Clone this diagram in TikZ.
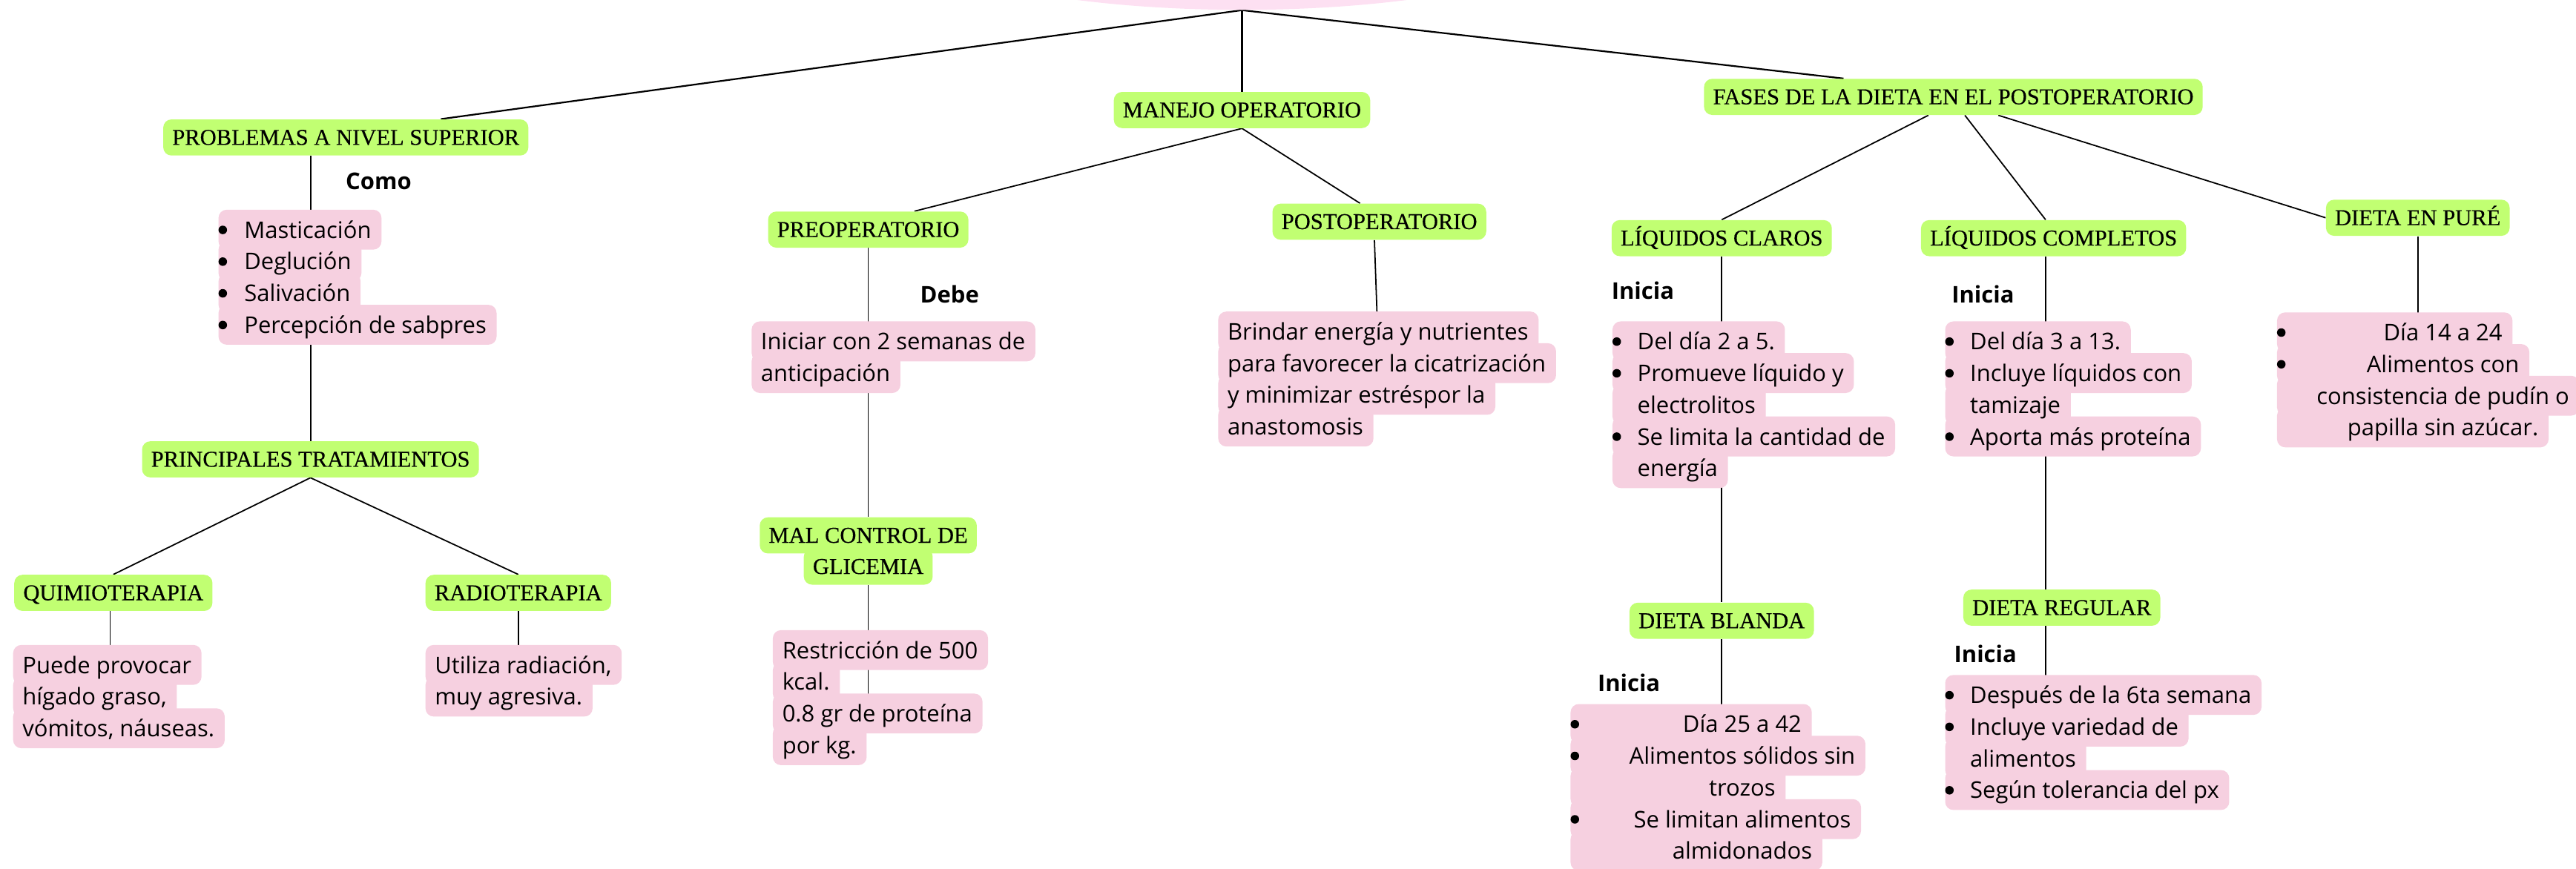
\documentclass[tikz,border=0pt]{standalone}
\usepackage{fontspec}
\setmainfont{Open Sans}
\newfontfamily\titlefont{Liberation Serif}[FakeBold=0.35]
\usetikzlibrary{calc,shapes.geometric}
\definecolor{greenc}{HTML}{C1FF72}
\definecolor{pinkc}{HTML}{F6D0E0}
\definecolor{rootc}{HTML}{FDE0F2}
\pgfdeclarelayer{edges}\pgfdeclarelayer{bgl}\pgfsetlayers{edges,bgl,main}
\newcommand\bodyfont{\fontsize{14}{16}\selectfont}
\tikzset{
 txt/.style={inner sep=0pt,font=\bodyfont},
 ttl/.style={fill=greenc, rounded corners=5pt, font=\titlefont\fontsize{13.8}{15}\selectfont, inner xsep=5.5pt, inner ysep=0pt, minimum height=22pt, text height=9pt, text depth=0pt},
 lbl/.style={font=\bodyfont\bfseries, inner sep=0pt},
 conn/.style={line width=0.8pt, black},
}
% #1 anchor, #2 name, #3 bg left, #4 text x, #5 baseline, #6 text
\newcommand\pinkline[6][base west]{%
 \node[txt,anchor=#1] (#2) at (#4,#5) {#6};
 \begin{pgfonlayer}{bgl}
 \fill[pinkc, rounded corners=5pt] let \p1=(#2.east), \p2=(#3,#5-17.3), \p3=(0,#5+7) in (\p2) rectangle (\x1+6pt,\y3);
 \end{pgfonlayer}}
\newcommand\pinkbullet[6][base west]{%
 \pinkline[#1]{#2}{#3}{#4}{#5}{#6}%
 \fill (#3+2.6,#5-5) circle (2.6pt);}
\begin{document}
\begin{tikzpicture}[x=1pt,y=-1pt]
\useasboundingbox (0,0) rectangle (1568,529);
% root
\node[ellipse, fill=rootc, minimum width=460pt, minimum height=120pt, inner sep=0pt] (root) at (756,-54) {};
% titles
\node[ttl] (prob) at (210.5,83.7) {PROBLEMAS A NIVEL SUPERIOR};
\node[ttl] (man) at (756,67) {MANEJO OPERATORIO};
\node[ttl] (fases) at (1189,59) {FASES DE LA DIETA EN EL POSTOPERATORIO};
\node[ttl] (princ) at (189,279.7) {PRINCIPALES TRATAMIENTOS};
\node[ttl] (quimio) at (69,361) {QUIMIOTERAPIA};
\node[ttl] (radio) at (315.5,361) {RADIOTERAPIA};
\node[ttl] (preop) at (528.5,139.8) {PREOPERATORIO};
\node[ttl] (postop) at (839.6,135) {POSTOPERATORIO};
\node[ttl] (mal1) at (528.5,326) {MAL CONTROL DE};
\node[ttl] (mal2) at (528.5,345) {GLICEMIA};
\node[ttl] (liqc) at (1048,145) {LÍQUIDOS CLAROS};
\node[ttl] (liqp) at (1250,145) {LÍQUIDOS COMPLETOS};
\node[ttl] (pure) at (1471.7,132.6) {DIETA EN PURÉ};
\node[ttl] (blanda) at (1048,378) {DIETA BLANDA};
\node[ttl] (reg) at (1255,370) {DIETA REGULAR};
% labels
\node[lbl] (lcomo) at (230.5,110.5) {Como};
\node[lbl] (ldebe) at (578,179) {Debe};
\node[lbl] (lin1) at (1000,177) {Inicia};
\node[lbl] (lin2) at (1207,179) {Inicia};
\node[lbl] (lin3) at (991.5,415.6) {Inicia};
\node[lbl] (lin4) at (1208.5,398) {Inicia};
% pink boxes
\pinkbullet{c1}{133}{148.5}{145}{Masticación}
\pinkbullet{c2}{133}{148.5}{164.3}{Deglución}
\pinkbullet{c3}{133}{148.5}{183.6}{Salivación}
\pinkbullet{c4}{133}{148.5}{202.9}{Percepción de sabpres}
\pinkline{q1}{8}{13.5}{410}{Puede provocar}
\pinkline{q2}{8}{13.5}{429.3}{hígado graso,}
\pinkline{q3}{8}{13.5}{448.6}{vómitos, náuseas.}
\pinkline{r1}{259}{264.5}{410}{Utiliza radiación,}
\pinkline{r2}{259}{264.5}{429.3}{muy agresiva.}
\pinkline{i1}{457.5}{463}{213}{Iniciar con 2 semanas de}
\pinkline{i2}{457.5}{463}{232.3}{anticipación}
\pinkline{rs1}{470.4}{476}{401}{Restricción de 500}
\pinkline{rs2}{470.4}{476}{420.3}{kcal.}
\pinkline{rs3}{470.4}{476}{439.6}{0.8 gr de proteína}
\pinkline{rs4}{470.4}{476}{458.9}{por kg.}
\pinkline{br1}{741.5}{747}{207}{Brindar energía y nutrientes}
\pinkline{br2}{741.5}{747}{226.3}{para favorecer la cicatrización}
\pinkline{br3}{741.5}{747}{245.6}{y minimizar estréspor la}
\pinkline{br4}{741.5}{747}{264.9}{anastomosis}
\pinkbullet{lc1}{981.5}{996.5}{213}{Del día 2 a 5.}
\pinkbullet{lc2}{981.5}{996.5}{232.3}{Promueve líquido y}
\pinkline{lc3}{981.5}{996.5}{251.6}{electrolitos}
\pinkbullet{lc4}{981.5}{996.5}{270.9}{Se limita la cantidad de}
\pinkline{lc5}{981.5}{996.5}{290.2}{energía}
\pinkbullet{lp1}{1184}{1199}{213}{Del día 3 a 13.}
\pinkbullet{lp2}{1184}{1199}{232.3}{Incluye líquidos con}
\pinkline{lp3}{1184}{1199}{251.6}{tamizaje}
\pinkbullet{lp4}{1184}{1199}{270.9}{Aporta más proteína}
\pinkbullet[base]{pu1}{1386}{1487}{207.5}{Día 14 a 24}
\pinkbullet[base]{pu2}{1386}{1487}{226.8}{Alimentos con}
\pinkline[base]{pu3}{1386}{1487}{246.1}{consistencia de pudín o}
\pinkline[base]{pu4}{1386}{1487}{265.4}{papilla sin azúcar.}
\pinkbullet[base]{bl1}{956}{1060.5}{446}{Día 25 a 42}
\pinkbullet[base]{bl2}{956}{1060.5}{465.3}{Alimentos sólidos sin}
\pinkline[base]{bl3}{956}{1060.5}{484.6}{trozos}
\pinkbullet[base]{bl4}{956}{1060.5}{503.9}{Se limitan alimentos}
\pinkline[base]{bl5}{956}{1060.5}{523.2}{almidonados}
\pinkbullet{rg1}{1184}{1199}{428.3}{Después de la 6ta semana}
\pinkbullet{rg2}{1184}{1199}{447.6}{Incluye variedad de}
\pinkline{rg3}{1184}{1199}{466.9}{alimentos}
\pinkbullet{rg4}{1184}{1199}{486.2}{Según tolerancia del px}
% connector helper points on node edges
\coordinate (lpS) at ($(liqp.south west)!0.47!(liqp.south east)$);
\coordinate (lpN) at ($(liqp.north west)!0.47!(liqp.north east)$);
% connectors
\begin{pgfonlayer}{edges}
\draw[conn, line width=1pt] (root.south) -- ($(prob.north west)!0.76!(prob.north east)$);
\draw[conn, line width=1pt] (root.south) -- (man.north);
\draw[conn, line width=1pt] (root.south) -- ($(fases.north west)!0.28!(fases.north east)$);
\draw[conn] (princ.north |- prob.south) -- (princ.north);
\draw[conn] (princ.south) -- (quimio.north);
\draw[conn] (princ.south) -- (radio.north);
\draw[conn] ([xshift=-2pt]quimio.south) -- ([xshift=-2pt]quimio.south |- q1.center);
\draw[conn] (radio.south) -- (radio.south |- r1.center);
\draw[conn] (man.south) -- ($(preop.north west)!0.73!(preop.north east)$);
\draw[conn] (man.south) -- ($(postop.north west)!0.41!(postop.north east)$);
\draw[conn] (preop.south) -- (mal1.north);
\draw[conn] (mal2.south) -- (mal2.south |- rs3.center);
\draw[conn] ([xshift=-3pt]postop.south) -- ([xshift=-1pt]postop.south |- br1.center);
\draw[conn] ($(fases.south west)!0.45!(fases.south east)$) -- (liqc.north);
\draw[conn] ($(fases.south west)!0.523!(fases.south east)$) -- (lpN);
\draw[conn] ($(fases.south west)!0.59!(fases.south east)$) -- (pure.west);
\draw[conn] (liqc.south) -- (blanda.north);
\draw[conn] (blanda.south) -- (blanda.south |- bl1.center);
\draw[conn] (lpS) -- (lpS |- reg.north);
\draw[conn] (lpS |- reg.south) -- (lpS |- rg1.center);
\draw[conn] (pure.south) -- (pure.south |- pu1.center);
\end{pgfonlayer}
\end{tikzpicture}
\end{document}
